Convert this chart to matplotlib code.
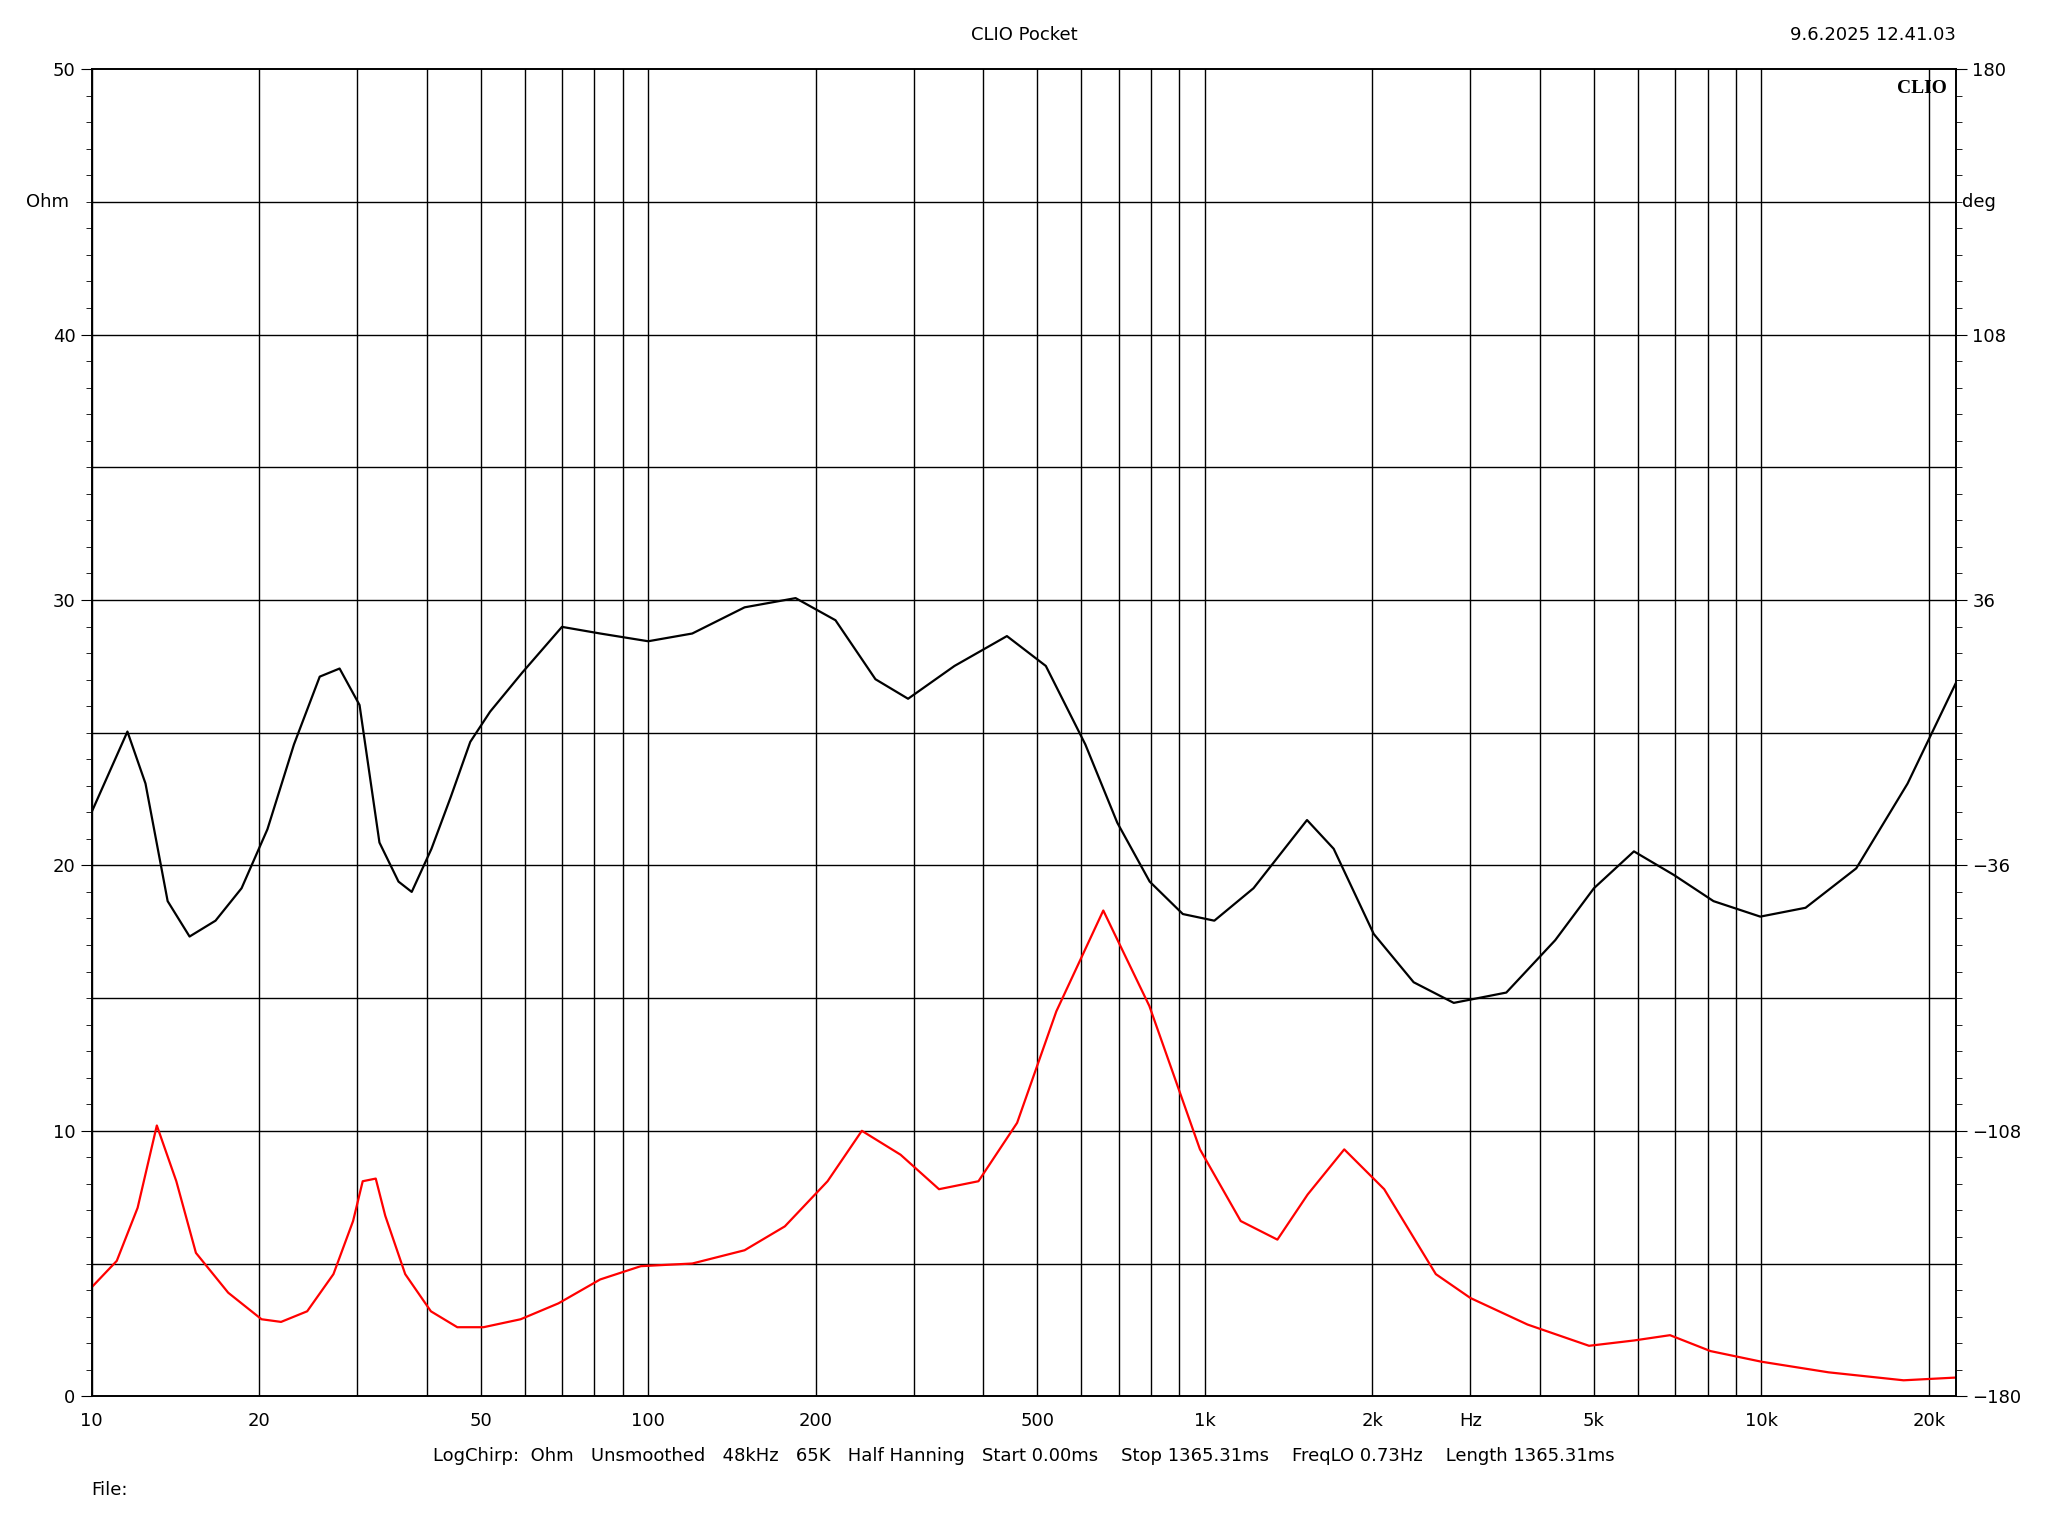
import numpy as np
import matplotlib
matplotlib.use("Agg")
import matplotlib.pyplot as plt

# impedance (red, Ohm)
imp_f = [10, 11.1, 12.1, 13.1, 14.2, 15.4, 17.6, 20.2, 21.9, 24.4, 27.2, 29.5, 30.7, 32.4, 33.7,
         36.6, 40.7, 45.4, 50.6, 59, 69, 82, 97, 120, 149, 176, 210, 242, 284, 333, 392, 460,
         541, 657, 795, 980, 1160, 1350, 1530, 1780, 2100, 2600, 3000, 3800, 4900, 5900, 6850,
         8100, 10000, 13200, 18000, 22200]
imp_ohm = [4.1, 5.1, 7.1, 10.2, 8.1, 5.4, 3.9, 2.9, 2.8, 3.2, 4.6, 6.6, 8.1, 8.2, 6.8,
           4.6, 3.2, 2.6, 2.6, 2.9, 3.5, 4.4, 4.9, 5.0, 5.5, 6.4, 8.1, 10.0, 9.1, 7.8, 8.1, 10.3,
           14.5, 18.3, 14.7, 9.3, 6.6, 5.9, 7.6, 9.3, 7.8, 4.6, 3.7, 2.7, 1.9, 2.1, 2.3,
           1.7, 1.3, 0.9, 0.6, 0.7]

# phase (black, deg)
ph_f = [10, 11.6, 12.5, 13.7, 15.0, 16.7, 18.6, 20.7, 23.1, 25.7, 27.9, 30.3, 32.9, 35.6, 37.6,
        40.8, 44.2, 47.9, 52, 59.4, 70, 82, 100, 120, 149, 184, 217, 256, 293, 355, 441, 518,
        610, 696, 796, 913, 1040, 1223, 1526, 1704, 2011, 2372, 2800, 3480, 4260, 5000, 5900,
        6960, 8200, 9950, 12000, 14800, 18300, 22400]
ph_deg = [-21.6, 0.3, -13.8, -45.7, -55.3, -51, -42.2, -26.2, -3.2, 15.2, 17.4, 7.5, -29.8, -40.4, -43.2,
          -31.5, -17.4, -2.5, 5.7, 16.3, 28.7, 26.9, 24.8, 26.9, 34, 36.5, 30.5, 14.5, 9.2, 18.1, 26.2, 18.1,
          -3.2, -24.4, -40.4, -49.2, -51, -42.2, -23.7, -31.5, -54.6, -67.7, -73.3, -70.5, -56.3, -42.2, -32.2,
          -38.6, -45.7, -49.9, -47.5, -36.8, -13.8, 13.8]

fmin, fmax = 10, 22400

fig = plt.figure(figsize=(20.48, 15.36), dpi=100)
ax = fig.add_axes([0.0447, 0.091, 0.9106, 0.864])
ax.set_xscale("log")
ax.set_xlim(fmin, fmax)
ax.set_ylim(0, 50)

vlines = [d * m for m in (10, 100, 1000) for d in range(1, 10)] + [10000, 20000]
for v in vlines:
    ax.axvline(v, color="black", lw=1.0)
for h in range(5, 50, 5):
    ax.axhline(h, color="black", lw=1.0)

ax.plot(imp_f, imp_ohm, color="red", lw=1.6)
ax2 = ax.twinx()
ax2.set_ylim(-180, 180)
ax2.plot(ph_f, ph_deg, color="black", lw=1.6)

ax.set_xticks([])
ax.set_xticks([], minor=True)
ax.set_yticks([0, 10, 20, 30, 40, 50])
ax.set_yticks(np.arange(0, 51, 1), minor=True)
ax.tick_params(axis="y", which="major", length=8, labelsize=13)
ax.tick_params(axis="y", which="minor", length=4)
ax2.set_yticks([-180, -108, -36, 36, 108, 180])
ax2.set_yticks(np.arange(-180, 181, 7.2), minor=True)
ax2.tick_params(axis="y", which="major", length=8, labelsize=13)
ax2.tick_params(axis="y", which="minor", length=4)
for a in (ax, ax2):
    for s in a.spines.values():
        s.set_linewidth(1.2)

tr = ax.get_xaxis_transform()
for f, lab in [(10, "10"), (20, "20"), (50, "50"), (100, "100"), (200, "200"), (500, "500"),
               (1000, "1k"), (2000, "2k"), (3000, "Hz"), (5000, "5k"), (10000, "10k"), (20000, "20k")]:
    ax.text(f, -0.012, lab, transform=tr, ha="center", va="top", fontsize=13)

ax.text(-0.012, 45, "Ohm", transform=ax.get_yaxis_transform(), ha="right", va="center", fontsize=13)
ax2.text(1.003, 45 * 7.2 - 180, "deg", transform=ax2.get_yaxis_transform(), ha="left", va="center", fontsize=13)
ax.text(0.995, 0.992, "CLIO", transform=ax.transAxes, ha="right", va="top", fontsize=14,
        fontweight="bold", family="Liberation Serif")

fig.text(0.5, 0.977, "CLIO Pocket", ha="center", va="center", fontsize=13)
fig.text(0.955, 0.977, "9.6.2025 12.41.03", ha="right", va="center", fontsize=13)
fig.text(0.5, 0.052, "LogChirp:  Ohm   Unsmoothed   48kHz   65K   Half Hanning   Start 0.00ms    "
         "Stop 1365.31ms    FreqLO 0.73Hz    Length 1365.31ms", ha="center", va="center", fontsize=13)
fig.text(0.0447, 0.030, "File:", ha="left", va="center", fontsize=13)

fig.savefig("out.png", dpi=100, facecolor="white")
